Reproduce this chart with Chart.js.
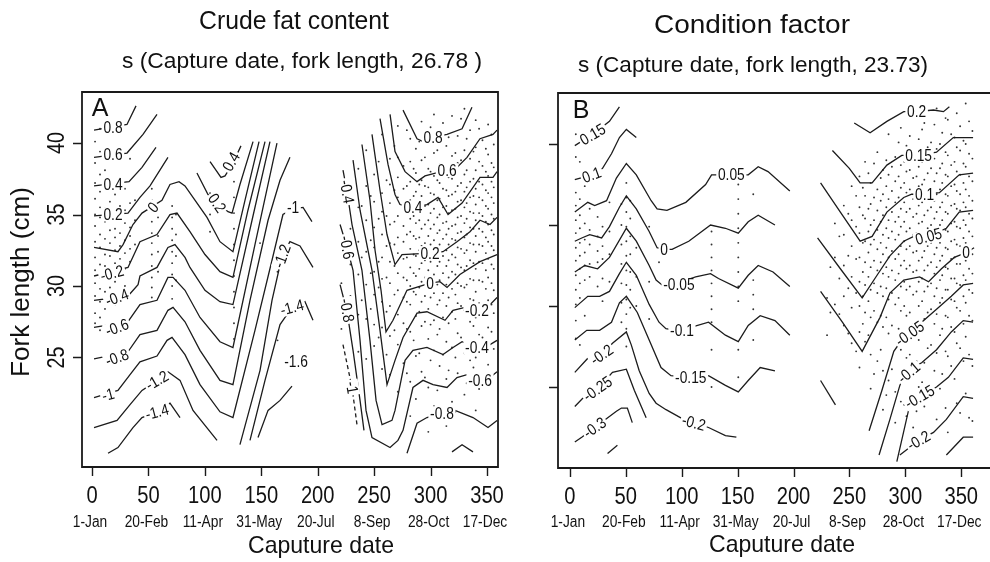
<!DOCTYPE html>
<html>
<head>
<meta charset="utf-8">
<script src="https://cdn.jsdelivr.net/npm/chart.js@4.4.1/dist/chart.umd.min.js"></script>
<style>
html, body { margin: 0; padding: 0; background: #fff; overflow: hidden; }
#wrap { position: relative; width: 990px; height: 562px; }
canvas { position: absolute; left: 0; top: 0; }
</style>
</head>
<body>
<div id="wrap">
  <canvas id="fatChart" width="990" height="562"></canvas>
  <canvas id="condChart" width="990" height="562"></canvas>
</div>
<script>
// axis ticks
const xTicks = [0, 50, 100, 150, 200, 250, 300, 350];
const xDates = ['1-Jan', '20-Feb', '11-Apr', '31-May', '20-Jul', '8-Sep', '28-Oct', '17-Dec'];
const yTicks = [25, 30, 35, 40];

// ---- A: crude fat content, contour pieces [day, fork length] ----
const fat08 = [[1.8,40.9],[31,41.3],[39,42.6]];
const fat06 = [[1.8,39.0],[31,39.3],[45.2,40.6],[57.6,42.0]];
const fat04a = [[1.8,37.0],[32.8,37.3],[44.3,38.3],[56.7,39.7]];
const fat04b = [[104.6,38.7],[114.3,37.6],[117.9,37.7],[124.9,38.6],[132,39.8]];
const fat02a = [[1.8,34.9],[31.9,35.1],[42.5,36.2],[51.4,37.0],[67.3,39.0]];
const fat02b = [[93,37.9],[102.8,36.4],[120.5,35.2],[124.1,35.1],[131.1,37.1],[142.7,40.1]];
const fat00 = [[1.8,32.7],[23,32.4],[27.5,32.9],[36.3,34.3],[44.3,35.1],[62,36.0],[69.1,37.1],[77.1,37.3],[82.4,37.0],[89.5,36.2],[101.9,34.8],[113.4,33.1],[124.9,32.4],[135.6,36.0],[148,40.1]];
const fatM02 = [[1.8,30.7],[31.9,31.3],[42.5,33.1],[57.6,33.6],[69.1,35.0],[75.3,35.1],[86.8,33.8],[100.1,32.2],[113.4,31.0],[124.9,30.6],[138.2,35.3],[153.3,40.1]];
const fatM04 = [[1.8,29.0],[31.9,29.3],[40.8,30.1],[42.5,30.7],[57.6,31.3],[67.3,32.7],[73.5,32.9],[82.4,32.0],[86.8,31.3],[100.1,29.7],[113.4,28.9],[124.9,28.7],[141.8,34.6],[157.7,40.1]];
const fatM06 = [[1.8,27.1],[31.9,27.5],[42.5,28.7],[57.6,29.0],[67.3,30.6],[71.8,30.6],[82.4,29.7],[95.7,27.8],[113.4,26.1],[124.9,25.7],[144.4,32.9],[163.9,40.0]];
const fatM08 = [[1.8,24.9],[31.9,25.4],[42.5,26.6],[57.6,26.9],[67.3,28.3],[71.8,28.5],[82.4,27.5],[95.7,25.5],[113.4,23.4],[124.9,23.1],[140,29.0],[156,34.6],[166.6,37.4],[175.4,39.0]];
const fatM10 = [[1.8,22.2],[23,22.7],[33.7,23.8],[42.5,24.7],[57.6,25.1],[66.5,26.2],[70.9,26.4],[82.4,25.2],[95.7,23.1],[113.4,21.2],[124.9,20.8],[144.4,26.9],[159.5,31.8],[169.2,35.0],[178.1,35.4],[187,35.5],[194.9,34.5]];
const fatM12a = [[1.8,20.1],[22.2,20.6],[33.7,21.7],[44.3,22.7],[57.6,23.4],[67.3,24.0],[78,23.4],[89.5,21.3],[110.8,19.2]];
const fatM12b = [[131.1,18.9],[148.9,24.1],[159.5,29.0],[168.4,32.1],[175.4,33.1],[184.3,32.8],[195.8,31.3]];
const fatM14a = [[14.2,18.3],[23,18.7],[36.3,20.1],[44.3,20.8],[57.6,21.2],[69.1,21.8],[78,20.8]];
const fatM14b = [[140,19.2],[153.3,23.4],[166.6,27.3],[177.2,28.5],[188.7,28.9],[195.8,27.6]];
const fatM16 = [[147.1,19.4],[156,21.3],[166.6,22.0],[177.2,23.0]];
const fatR08 = [[275.6,42.3],[288,40.3],[293.3,40.1],[302.2,40.4],[314.6,40.6],[327.9,41.0],[336.7,42.5]];
const fatR06 = [[264.1,42.0],[268.5,39.4],[277.4,38.0],[288,37.3],[295.1,37.7],[314.6,38.1],[323.4,38.3],[332.3,39.0],[343.8,40.3],[355.3,40.6],[358.9,40.9]];
const fatR04 = [[255.2,41.7],[262.3,38.5],[268.5,36.4],[272.9,35.7],[284.4,35.5],[296.8,35.7],[306.6,36.2],[315.5,35.0],[327.9,35.8],[343.8,37.6],[355.3,37.6],[358.9,38.0]];
const fatR02 = [[248.1,40.6],[255.2,36.7],[261.4,33.6],[268.5,31.5],[274.7,32.2],[299.5,32.3],[311,32.4],[323.4,33.1],[334.9,33.8],[343.8,34.6],[352.7,34.3],[358.9,34.8]];
const fatR00 = [[239.2,39.9],[246.3,36.0],[250.8,32.5],[256.1,29.7],[260.5,26.8],[266.7,27.6],[279.1,29.7],[299.5,30.2],[308.3,30.3],[314.6,29.9],[326,30.8],[343.8,31.7],[358.9,32.2]];
const fatRM02 = [[231.3,38.8],[237.5,35.3],[248.1,31.1],[255.2,26.9],[261.4,23.1],[268.5,24.8],[275.6,26.4],[288,28.1],[296.8,28.2],[312.8,27.6],[319.9,28.3],[330.5,28.5],[341.1,28.3],[352.7,28.7],[358.9,29.2]];
const fatRM04 = [[222.4,38.1],[226,36.6],[230.4,34.3],[239.2,31.1],[246.3,26.2],[251.7,22.0],[257,20.3],[265.8,20.6],[268.5,21.3],[277.4,24.8],[284.4,25.5],[296.8,25.7],[311,25.2],[319.9,25.7],[327.9,26.1],[341.1,25.7],[352.7,25.9],[358.9,26.2]];
const fatRM06 = [[219.8,34.3],[226,32.7],[231.3,31.1],[237.5,26.2],[242.8,21.3],[248.1,19.4],[264.1,18.7],[271.1,19.2],[275.6,19.9],[284.4,22.9],[293.3,23.4],[302.2,23.1],[314.6,22.9],[323.4,23.6],[332.3,23.8],[343.8,23.4],[352.7,23.6],[358.9,24.0]];
const fatRM08a = [[219.8,30.1],[226,28.2],[231.3,25.5],[237.5,22.0],[241,19.9]];
const fatRM08b = [[279.1,18.3],[288,20.4],[296.8,20.8],[310.1,21.1],[321.7,21.3],[337.6,20.8],[350.9,20.1],[358.9,20.6]];
const fatRM10 = [[222.4,25.9],[230.4,22.9],[234.8,20.3]];
const fatRBot = [[319,18.4],[327.9,18.9],[337.6,18.4]];

const fatLabels = [
  ['0.8',18.6,41.1,0], ['0.6',18.6,39.2,0], ['0.4',18.6,37.1,0], ['0.2',18.6,35.0,0],
  ['-0.2',17.7,30.9,-15], ['-0.4',22.1,29.2,-20], ['-0.6',22.1,27.1,-20], ['-0.8',22.1,25.0,-20],
  ['-1',14.2,22.4,-15], ['0',54.1,35.5,-50], ['-1.2',57.6,23.4,-30], ['-1.4',57.6,21.2,-15],
  ['0.4',123.2,38.7,-60], ['0.2',110.8,35.8,55], ['-1',178.1,35.5,0], ['-1.2',168.4,32.1,-70],
  ['-1.4',177.2,28.5,-15], ['-1.6',180.8,24.7,0],
  ['0.8',302.2,40.4,0], ['0.6',314.6,38.1,0], ['0.4',284.4,35.5,0], ['0.2',299.5,32.3,0],
  ['0',299.5,30.2,0], ['-0.2',341.1,28.3,0], ['-0.4',341.1,25.7,0], ['-0.6',343.8,23.4,0],
  ['-0.8',310.1,21.1,0], ['-0.4',226,36.6,80], ['-0.6',226,32.7,80], ['-0.8',226,28.3,80], ['-1',230.4,22.9,80]
];

// A: sampled fish, capture day and fork lengths on that day
const fatDotDays = [2.7,7.1,11.5,15.9,20.4,24.8,29.2,33.7,38.1,53,58.5,71,74.4,104.6,125.8,148.9,164.4,
  221,229,236,243,250,257,264,271,276,282,287,292,298,303,308,314,319,324,330,335,340,346,351,356,
  239,247,254,261,268,279,285,290,295,300,306,311,316,322,327,332,338,343,349,354];
const fatDotLens = [
  [40.1,38.6,37.2,36.1,35.0,34.2,33.1,32.0,31.1,30.2,29.3,28.1,27.4],
  [41.0,39.4,37.8,36.6,35.5,34.8,33.6,32.7,31.5,30.6,29.8,28.9,27.8,26.9],
  [38.1,36.9,35.4,34.5,33.3,32.2,31.4,30.8,29.6,28.4],
  [37.0,35.9,34.9,33.9,33.0,32.1,31.0,29.9,29.1],
  [36.4,35.2,34.0,33.4,32.5,31.6,30.3,28.7],
  [37.5,35.6,34.7,33.7,32.8,31.9,30.9,29.5],
  [36.8,35.3,34.4,33.2,32.3,31.2,30.0],
  [38.9,35.8,34.1,33.5,32.6,31.7],
  [36.0,34.6,32.9],
  [36.8,36.0,35.2,34.5,33.7,33.0,32.2,31.4,30.6,29.9,29.2],
  [34.8,33.5,32.4,31.0],
  [35.6,34.8,34.0,33.2,32.4,31.6,30.8,30.0,29.1],
  [35.0,33.6,32.1,30.4],
  [36.5,35.0,33.8],
  [37.3,36.2,35.1,34.0,32.9,31.8,30.7,29.6,28.5,27.4,26.3],
  [33.0],
  [31.0,26.2],
  [33.5,30.2,27.0],
  [36.8,34.0,31.5,29.3],
  [38.2,35.5,33.1,30.8,28.0,25.4],
  [39.5,37.0,34.6,32.4,30.1,27.7,24.9],
  [37.8,35.9,34.1,32.7,31.0,29.4,27.3,25.8],
  [40.6,36.5,35.2,33.6,32.0,30.5,28.9,27.1,24.2],
  [38.9,37.1,35.8,34.3,33.0,31.7,30.2,28.6,26.5,23.8],
  [41.2,39.0,37.6,36.2,34.9,33.4,32.3,30.9,29.7,28.0,25.9,22.6],
  [38.4,36.8,35.5,34.2,33.1,31.9,30.6,29.2,27.4,24.6],
  [40.3,38.7,37.3,36.0,34.7,33.8,32.6,31.3,30.0,28.7,26.8,23.3,20.9],
  [39.6,37.9,36.6,35.3,34.4,33.3,32.1,30.7,29.4,27.9,25.1,22.1],
  [41.5,38.8,37.4,36.3,35.1,34.0,32.8,31.6,30.3,28.9,27.2,24.0],
  [40.0,38.2,36.9,35.7,34.6,33.5,32.4,31.1,29.8,28.4,26.3,22.9,19.8],
  [42.0,39.3,37.7,36.4,35.4,34.3,33.2,32.0,30.8,29.5,27.6,25.5,21.6],
  [40.8,38.5,37.2,36.1,35.0,33.9,32.9,31.7,30.4,29.0,27.0,24.4],
  [39.8,38.0,36.7,35.6,34.5,33.6,32.5,31.4,30.1,28.6,26.1,23.5,20.2],
  [41.9,39.1,37.5,36.4,35.3,34.2,33.3,32.2,31.0,29.8,28.2,25.7,21.9],
  [40.5,38.6,37.0,35.9,34.8,33.7,32.7,31.5,30.2,28.8,26.7,23.9],
  [42.4,39.5,37.8,36.6,35.5,34.4,33.4,32.3,31.1,29.9,28.3,25.3,22.4],
  [40.9,38.9,37.3,36.2,35.2,34.1,33.0,31.8,30.5,29.1,27.5,24.8],
  [41.6,39.7,38.1,36.8,35.7,34.6,33.5,32.4,31.2,29.6,27.8,25.0,21.3],
  [40.2,38.4,37.1,36.0,34.9,33.8,32.8,31.6,30.3,28.5,26.4,23.0],
  [41.3,39.2,37.7,36.5,35.4,34.3,33.1,31.9,30.6,29.0,27.1,24.5],
  [39.9,38.3,36.9,35.8,34.7,33.6,32.5,31.2,29.7,28.1,25.6],
  [35.6,32.0,29.0],
  [36.3,33.2,30.9,28.4],
  [38.7,34.7,31.7,29.9,26.4],
  [37.4,34.9,32.8,30.6,28.2,25.2],
  [39.8,36.7,34.5,32.9,31.4,29.4,26.9],
  [40.9,37.0,35.3,33.6,32.0,30.4,28.9,27.0,23.9],
  [38.2,36.3,34.9,33.5,32.2,30.9,29.6,26.2],
  [40.1,37.1,35.8,34.6,33.4,32.5,31.2,29.9,28.2,25.3],
  [39.0,37.0,35.6,34.3,33.0,31.8,30.6,29.3,27.5,23.6],
  [41.1,38.0,36.5,35.1,34.0,32.9,31.7,30.5,29.2,27.3,24.8],
  [39.5,37.4,36.0,34.8,33.7,32.6,31.4,30.1,28.7,26.6,22.7],
  [41.4,38.3,36.8,35.5,34.4,33.3,32.1,30.9,29.5,27.8,25.2],
  [40.4,37.6,36.3,35.1,34.0,32.9,31.8,30.6,29.2,27.4,24.1],
  [39.3,37.9,36.6,35.4,34.3,33.2,32.0,30.8,29.4,27.7,25.0,21.2],
  [41.7,38.8,37.2,36.0,34.9,33.8,32.6,31.3,30.0,28.6,26.4],
  [40.3,38.1,36.9,35.8,34.7,33.6,32.5,31.4,30.1,28.5,26.0,23.2],
  [39.4,37.5,36.3,35.1,34.0,32.9,31.6,30.4,29.0,27.2,24.3],
  [41.0,38.7,37.3,36.2,35.1,34.0,32.9,31.7,30.4,28.8,26.6,22.8],
  [39.6,38.0,36.7,35.6,34.5,33.4,32.3,31.1,29.8,28.3,25.9],
  [40.6,38.6,37.3,36.2,35.0,33.9,32.8,31.5,30.2,28.7,26.8,23.7]
];

// ---- B: condition factor, contour pieces [day, fork length] ----
const cond015 = [[4.4,39.9],[20.4,40.6],[35.4,41.4],[44.3,42.3]];
const cond010 = [[4.4,37.8],[19.5,38.1],[29.2,38.5],[37.2,39.4],[44.3,40.4],[50.5,40.9],[59.4,40.4]];
const cond005 = [[4.4,35.8],[16,36.4],[22.2,36.2],[32.8,36.5],[41.6,37.9],[50.5,38.8],[59.4,38.1],[72.7,36.5],[78,36.0],[86.8,35.9],[103.7,36.4],[121.4,37.5],[126.7,38.1],[144.4,38.1],[159.5,38.1],[168.4,38.6],[177.2,38.3],[196.7,37.1]];
const cond000 = [[4.4,34.0],[10.6,34.2],[17.7,34.4],[28.4,34.2],[35.4,34.9],[44.3,36.1],[50.5,36.8],[59.4,36.0],[70.9,34.6],[78,33.6],[84.2,33.5],[91.4,33.5],[106.3,34.0],[125.8,35.0],[139.1,34.8],[150.6,34.5],[159.5,35.2],[168.4,35.6],[183.4,35.0]];
const condM005 = [[4.4,32.1],[13.3,32.5],[24.8,32.3],[35.4,33.0],[50.5,34.8],[59.4,34.0],[70.9,32.5],[77.1,31.6],[82.4,31.3],[91.4,31.3],[112.5,31.8],[125.8,32.0],[132.9,31.7],[150.6,31.1],[159.5,31.9],[168.4,32.5],[181.7,32.1],[196.7,31.2]];
const condM010 = [[4.4,29.9],[16,30.6],[26.6,30.6],[35.4,30.9],[44.3,32.0],[50.5,32.7],[59.4,31.9],[70.9,30.1],[79.7,29.0],[85.9,28.6],[94.7,28.5],[108.9,28.7],[124,29.0],[139.1,28.2],[150.6,27.8],[159.5,28.8],[170.2,29.4],[183.4,29.1],[196.7,28.2]];
const condM015 = [[4.4,27.9],[15.1,28.5],[26.6,28.5],[37.2,29.0],[44.3,30.2],[50.5,30.6],[60.3,29.6],[70.9,27.9],[81.5,26.2],[90.4,25.7],[108.1,25.6],[124,25.7],[139.1,25.1],[150.6,24.7],[159.5,25.4],[170.2,26.2],[183.4,26.0]];
const condM020 = [[4.4,25.9],[17.7,26.9],[28.4,27.0],[38.1,27.7],[50.5,28.4],[54.9,27.6],[62,26.0],[70.9,24.6],[77.1,24.0],[86,23.6],[99.2,23.1],[110.8,22.8],[124,22.5],[139.1,22.0],[148.9,21.9]];
const condM025 = [[4.4,23.8],[11.5,24.3],[24.8,24.9],[38.1,25.9],[50.5,26.1],[57.6,24.8],[68.2,23.1]];
const condM030 = [[4.4,21.6],[10.6,21.9],[22.2,22.5],[41.6,23.5],[46.1,23.7],[51.4,23.7],[55.8,22.8]];
const condLow = [[33.7,20.9],[42.5,21.4]];
const condR020 = [[254.3,41.3],[268.5,40.7],[283.5,41.4],[298.6,42.0],[310.1,42.0],[325.2,42.1],[334.1,42.0],[339.4,42.3]];
const condR015 = [[234.8,39.6],[249.9,38.5],[259.6,37.6],[270.3,37.6],[283.5,38.7],[296.8,39.3],[311.9,39.3],[327.9,39.5],[342.9,40.4],[360.6,40.4]];
const condR010 = [[224.2,37.6],[241.9,35.8],[259.6,34.0],[270.3,34.3],[283.5,35.8],[298.6,36.7],[305.7,36.9],[317.2,36.9],[330.5,37.0],[348.2,38.1],[360.6,38.2]];
const condR005 = [[221.5,34.2],[241.9,32.3],[261.4,30.5],[274.7,31.9],[286.2,33.1],[298.6,34.0],[307.5,34.3],[320.8,34.3],[336.7,34.8],[348.2,35.8],[360.6,35.9]];
const condR000 = [[224.2,30.9],[243.7,29.0],[261.4,27.2],[277.4,29.3],[286.2,30.8],[298.6,31.6],[312.8,31.8],[320.8,31.5],[332.3,32.3],[343.8,33.0],[354.4,33.3],[361.5,33.6]];
const condRM005 = [[267.6,22.3],[279.1,24.8],[289.7,27.2],[296.8,27.9],[303.9,28.3],[314.6,29.0],[327.9,29.8],[341.1,30.6],[351.8,31.3],[360.6,31.4]];
const condRM010 = [[276.5,20.8],[286.2,23.0],[295.1,25.1],[301.3,26.0],[314.6,26.5],[327.9,27.3],[341.1,28.4],[351.8,29.1],[360.6,29.0]];
const condRM015 = [[292.4,20.4],[303,23.6],[312.8,24.4],[327.9,25.0],[338.5,25.6],[351.8,26.8],[360.6,26.7]];
const condRM020 = [[295.1,20.8],[311.9,21.7],[325.2,22.2],[336.7,23.0],[351.8,24.4],[360.6,24.3]];
const condRM025 = [[336.7,20.8],[351.8,21.9],[360.6,21.9]];
const condMid = [[224.2,25.4],[237.5,23.9]];

const condLabels = [
  ['0.15',20.4,40.6,-30], ['0.1',19.5,38.1,-20], ['0.05',144.4,38.1,0], ['0',84.2,33.5,0],
  ['-0.05',97.5,31.3,0], ['-0.1',100.2,28.5,0], ['-0.15',108.1,25.6,0], ['-0.2',28.4,27.0,-35],
  ['-0.2',110.8,22.8,15], ['-0.25',24.8,24.9,-35], ['-0.3',22.2,22.5,-35],
  ['0.2',310.1,42.0,0], ['0.15',311.9,39.3,0], ['0.1',317.2,36.9,0], ['0.05',320.8,34.3,-15],
  ['0',354.4,33.3,0], ['-0.05',303.9,28.3,-35], ['-0.1',303,25.9,-40], ['-0.15',312.8,24.4,-30],
  ['-0.2',311.9,21.7,-30]
];

const condDotDays = [5.3,8.9,13.3,17.7,24.8,29.2,35.4,46.1,50.5,54,59.4,70.9,79.7,126.7,150.6,164,
  230,237,245,252,259,264,269,275,280,285,291,296,301,307,312,317,323,328,333,338,344,349,354,360,
  233,241,249,256,262,267,272,278,283,288,294,299,304,310,315,320,326,331,336,341,346,352,357];
const condDotLens = [
  [40.6,39.2,37.0,36.2,35.3,34.5,33.6,32.8,31.9,31.0,30.1,29.1,28.0],
  [38.9,36.6,35.6,34.8,33.9,33.1,32.3,31.4,30.5,27.6],
  [37.4,35.1,34.1,33.3,32.5,31.6,29.4],
  [36.0,34.7,33.8,32.6,31.8],
  [35.5,34.3,33.4,32.7,31.2],
  [34.9,33.7,32.9,31.7,30.3],
  [36.4,34.6,33.2,31.5],
  [36.3,35.0,33.8,32.6,31.4,30.2,29.0],
  [37.6,36.7,35.8,34.9,34.0,33.1,32.2,31.3,30.4,29.5,28.6,27.5],
  [36.5,35.4,34.3,33.2,32.1,31.0,29.9],
  [33.6,31.8,30.0],
  [34.9,31.5,29.2],
  [32.7],
  [34.6,33.8,33.0,32.2,31.4,30.6,29.8,29.0,27.3,25.0],
  [37.5,36.6,35.7,34.8,33.9,33.0,32.1,31.2,30.3,27.3,25.6],
  [36.9,31.6,30.7,29.8,27.9],
  [30.5,28.2],
  [35.1,33.0,30.1],
  [36.2,34.4,32.5,30.6,28.8],
  [37.4,35.3,33.7,31.8,29.9,27.7],
  [38.0,36.1,34.5,33.0,31.5,30.0,28.4,26.2],
  [38.9,36.8,35.4,34.0,32.7,31.3,29.6,27.8],
  [37.6,36.3,35.0,33.8,32.4,31.0,29.3,27.0,24.9],
  [39.5,37.2,35.9,34.7,33.5,32.2,30.8,29.0,26.6],
  [38.4,36.9,35.6,34.4,33.2,32.0,30.6,28.7,26.0,23.6],
  [40.6,38.1,36.6,35.3,34.2,33.0,31.8,30.4,28.3,25.4],
  [39.2,37.7,36.4,35.2,34.1,32.9,31.6,30.1,28.0,24.7,22.8],
  [41.0,38.7,37.3,36.0,34.9,33.7,32.5,31.2,29.7,27.3,24.1],
  [39.9,38.3,37.0,35.8,34.6,33.5,32.3,31.0,29.4,26.8,23.2],
  [41.8,39.4,37.9,36.6,35.5,34.4,33.3,32.1,30.7,28.9,26.2,22.5],
  [40.3,38.6,37.4,36.2,35.1,34.0,32.8,31.5,30.0,27.9,25.0],
  [41.3,39.0,37.8,36.7,35.6,34.5,33.4,32.2,30.9,29.2,26.5,23.8],
  [40.1,38.5,37.2,36.1,35.0,33.9,32.7,31.4,29.8,27.6,24.4],
  [42.2,39.7,38.2,36.9,35.8,34.7,33.6,32.4,31.1,29.5,27.1,23.0],
  [40.7,38.8,37.6,36.4,35.3,34.2,33.1,31.9,30.5,28.6,25.8],
  [41.5,39.3,38.0,36.8,35.7,34.6,33.5,32.3,31.0,29.3,26.9,22.2],
  [40.4,38.9,37.5,36.3,35.2,34.1,33.0,31.7,30.3,28.4,25.5],
  [41.1,39.6,38.1,36.9,35.9,34.8,33.7,32.6,31.3,29.7,27.4,23.4],
  [42.5,40.0,38.6,37.2,36.1,35.0,33.9,32.8,31.6,30.2,28.1,24.6],
  [40.8,39.1,37.7,36.5,35.4,34.3,33.2,32.0,30.8,29.1,26.3,22.9],
  [32.4,29.6],
  [34.3,31.7,29.5],
  [35.7,33.1,31.1,28.3],
  [36.8,34.9,32.9,30.8,27.2],
  [37.3,35.6,33.9,32.1,30.6,28.9],
  [38.2,36.0,34.6,33.3,31.8,30.3,28.2],
  [38.8,36.7,35.3,34.1,32.8,31.4,29.7,25.8],
  [37.9,36.5,35.2,33.9,32.7,31.2,29.4,27.3],
  [39.0,37.4,36.1,34.8,33.6,32.4,31.1,29.3,24.5],
  [38.6,37.1,35.8,34.6,33.4,32.2,30.8,28.8,26.1],
  [40.1,38.0,36.7,35.5,34.4,33.2,32.0,30.5,28.6,25.7],
  [38.9,37.6,36.4,35.2,34.0,32.8,31.5,30.0,27.8,23.9],
  [40.5,38.4,37.2,36.0,34.8,33.7,32.5,31.2,29.6,27.0],
  [39.6,38.0,36.8,35.7,34.5,33.4,32.2,30.9,29.0,26.6,23.5],
  [40.9,38.9,37.5,36.4,35.2,34.1,33.0,31.7,30.3,28.4,25.3],
  [39.8,38.2,37.0,35.9,34.8,33.7,32.5,31.2,29.6,27.4,24.7],
  [41.2,39.1,37.7,36.5,35.4,34.3,33.2,32.0,30.6,28.9,26.0],
  [40.0,38.5,37.2,36.1,35.0,33.9,32.8,31.6,30.2,28.2,24.9],
  [41.6,39.5,38.1,36.9,35.8,34.7,33.6,32.4,31.0,29.4,27.2,23.7],
  [40.6,38.7,37.4,36.2,35.1,34.0,32.9,31.7,30.4,28.7,26.3],
  [41.9,39.8,38.3,37.1,36.0,34.9,33.8,32.6,31.4,29.9,27.7,24.0],
  [40.2,38.8,37.6,36.4,35.3,34.2,33.1,31.9,30.6,28.9,26.6],
  [41.4,39.4,38.0,36.8,35.7,34.6,33.5,32.3,31.0,29.4,27.0,23.1]
];

const FONT = '"Liberation Sans", Arial, sans-serif';

function txt(ctx, s, x, y, size, sx, rot) {
  ctx.save();
  ctx.translate(x, y);
  if (rot) ctx.rotate(rot);
  ctx.scale(sx, 1);
  ctx.font = size + 'px ' + FONT;
  ctx.textAlign = 'center';
  ctx.textBaseline = 'middle';
  ctx.fillStyle = '#111';
  ctx.fillText(s, 0, 0);
  ctx.restore();
}

// squeeze or stretch a text to a given width
function txtW(ctx, s, x, y, size, width, rot) {
  ctx.save();
  ctx.font = size + 'px ' + FONT;
  const w = ctx.measureText(s).width;
  ctx.restore();
  txt(ctx, s, x, y, size, width / w, rot);
}

function lineSet(pts, dash) {
  return {
    data: pts.map(p => ({ x: p[0], y: p[1] })),
    showLine: true,
    pointRadius: 0,
    borderColor: '#1c1c1c',
    borderWidth: 1.3,
    borderDash: dash || [],
    tension: 0,
    fill: false
  };
}

function dotSet(days, lens) {
  const pts = [];
  days.forEach((d, i) => lens[i].forEach(l => pts.push({ x: d, y: l })));
  return { data: pts, pointRadius: 0.95, pointBackgroundColor: '#333', pointBorderWidth: 0, showLine: false };
}

function deco(p) {
  return {
    id: 'deco',
    afterDatasetsDraw(chart) {
      const { ctx, scales: { x, y } } = chart;
      p.labels.forEach(([t, d, c, r]) => {
        const px = x.getPixelForValue(d), py = y.getPixelForValue(c);
        ctx.save();
        ctx.translate(px, py);
        ctx.rotate(r * Math.PI / 180);
        ctx.scale(0.86, 1);
        ctx.font = '16px ' + FONT;
        const w = ctx.measureText(t).width;
        ctx.fillStyle = '#fff';
        ctx.fillRect(-w / 2 - 2, -7, w + 4, 14);
        ctx.fillStyle = '#111';
        ctx.textAlign = 'center';
        ctx.textBaseline = 'middle';
        ctx.fillText(t, 0, 1);
        ctx.restore();
      });
    },
    afterDraw(chart) {
      const { ctx, chartArea: a, scales: { x, y } } = chart;
      ctx.save();
      ctx.strokeStyle = '#1a1a1a';
      ctx.lineWidth = 1.8;
      ctx.beginPath();
      if (p.openRight) {
        ctx.moveTo(990, a.top); ctx.lineTo(a.left, a.top);
        ctx.lineTo(a.left, a.bottom); ctx.lineTo(990, a.bottom);
      } else {
        ctx.rect(a.left, a.top, a.right - a.left, a.bottom - a.top);
      }
      ctx.stroke();

      ctx.lineWidth = 1.4;
      ctx.beginPath();
      xTicks.forEach(v => {
        const px = Math.round(x.getPixelForValue(v)) + 0.5;
        ctx.moveTo(px, a.bottom); ctx.lineTo(px, a.bottom + 9);
      });
      yTicks.forEach(v => {
        const py = Math.round(y.getPixelForValue(v)) + 0.5;
        ctx.moveTo(a.left, py); ctx.lineTo(a.left - 9, py);
      });
      ctx.stroke();
      ctx.restore();

      xTicks.forEach((v, i) => {
        const px = x.getPixelForValue(v);
        txt(ctx, String(v), px, p.numY, 24, 0.84);
        txt(ctx, xDates[i], px - 2, p.dateY, 16, 0.86);
      });
      if (p.yLabels) {
        yTicks.forEach(v => txt(ctx, String(v), 58, y.getPixelForValue(v), 23, 0.86, -Math.PI / 2));
        txtW(ctx, 'Fork length (cm)', 22, 282, 25, 190, -Math.PI / 2);
      }
      txtW(ctx, p.title, p.titleX, p.titleY, 25, p.titleW);
      txtW(ctx, p.sub, p.subX, p.subY, 22, p.subW);
      txtW(ctx, 'Caputure date', p.xlabX, p.xlabY, 24, 146);
      txt(ctx, p.letter, p.letterX, p.letterY, 25, 1);
    }
  };
}

function makePanel(id, p) {
  const datasets = [];
  p.lines.forEach(l => datasets.push(lineSet(l)));
  p.dashed.forEach(l => datasets.push(lineSet(l, [4, 3])));
  datasets.push(dotSet(p.dotDays, p.dotLens));
  return new Chart(document.getElementById(id), {
    type: 'scatter',
    data: { datasets },
    options: {
      responsive: false,
      animation: false,
      events: [],
      layout: { padding: p.pad },
      plugins: { legend: { display: false }, tooltip: { enabled: false } },
      scales: {
        x: { type: 'linear', display: false, min: p.xMin, max: p.xMax },
        y: { type: 'linear', display: false, min: p.yMin, max: p.yMax }
      }
    },
    plugins: [deco(p)]
  });
}

makePanel('fatChart', {
  lines: [fat08, fat06, fat04a, fat04b, fat02a, fat02b, fat00, fatM02, fatM04, fatM06, fatM08, fatM10,
    fatM12a, fatM12b, fatM14a, fatM14b, fatM16, fatR08, fatR06, fatR04, fatR02, fatR00, fatRM02,
    fatRM04, fatRM06, fatRM08a, fatRM08b, fatRBot],
  dashed: [fatRM10],
  dotDays: fatDotDays, dotLens: fatDotLens,
  labels: fatLabels,
  pad: { left: 82, top: 92, right: 492, bottom: 95 },
  xMin: -8.86, xMax: 359.75, yMin: 17.34, yMax: 43.57,
  openRight: false, yLabels: true,
  numY: 496, dateY: 523,
  title: 'Crude fat content', titleX: 294, titleY: 22, titleW: 190,
  sub: 's (Capture date, fork length, 26.78 )', subX: 302, subY: 62, subW: 360,
  xlabX: 321, xlabY: 546,
  letter: 'A', letterX: 100, letterY: 109
});

makePanel('condChart', {
  lines: [cond015, cond010, cond005, cond000, condM005, condM010, condM015, condM020, condM025, condM030,
    condLow, condR020, condR015, condR010, condR005, condR000, condRM005, condRM010, condRM015,
    condRM020, condRM025, condMid],
  dashed: [],
  dotDays: condDotDays, dotLens: condDotLens,
  labels: condLabels,
  pad: { left: 558, top: 93, right: 0, bottom: 94 },
  xMin: -10.63, xMax: 372.15, yMin: 20.0, yMax: 43.15,
  openRight: true, yLabels: false,
  numY: 497, dateY: 523,
  title: 'Condition factor', titleX: 752, titleY: 26, titleW: 196,
  sub: 's (Capture date, fork length, 23.73)', subX: 753, subY: 66, subW: 350,
  xlabX: 782, xlabY: 545,
  letter: 'B', letterX: 581, letterY: 111
});
</script>
</body>
</html>
